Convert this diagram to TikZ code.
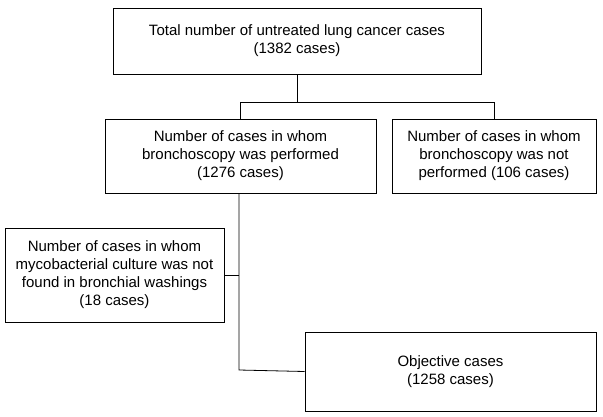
\documentclass[tikz,border=0pt]{standalone}
\usepackage{fontspec}
\setmainfont{Liberation Sans}
\begin{document}
\begin{tikzpicture}[x=1pt,y=-1pt,
  bx/.style={draw,line width=0.8pt,inner sep=0pt,font=\fontsize{15}{18}\selectfont,align=center},
  ln/.style={line width=0.8pt}]
\useasboundingbox (0,0) rectangle (603,416);
\node[bx,minimum width=368pt,minimum height=66pt] (top) at (297,41) {Total number of untreated lung cancer cases\\(1382 cases)};
\node[bx,minimum width=271pt,minimum height=74pt] (ml) at (240.5,156) {Number of cases in whom\\bronchoscopy was performed\\(1276 cases)};
\node[bx,minimum width=204pt,minimum height=74pt] (mr) at (494,156) {Number of cases in whom\\bronchoscopy was not\\performed (106 cases)};
\node[bx,minimum width=219pt,minimum height=94pt] (ll) at (114.5,275) {Number of cases in whom\\mycobacterial culture was not\\found in bronchial washings\\(18 cases)};
\node[bx,minimum width=291pt,minimum height=79pt] (bt) at (450.5,371.5) {Objective cases\\(1258 cases)};
\coordinate (j) at (297,102);
\draw[ln] (top.south) -- (j);
\draw[ln] (ml.north) -- (240.5,102) -- (494,102) -- (mr.north);
\draw[ln] (239,193) -- (239,370) -- (bt.west);
\draw[ln] (239,275) -- (ll.east);
\end{tikzpicture}
\end{document}
